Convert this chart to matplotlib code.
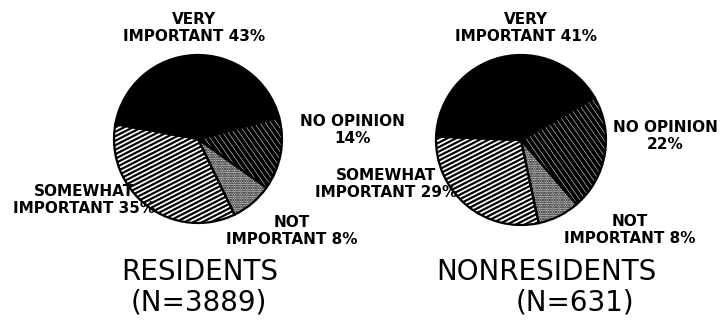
import matplotlib.pyplot as plt
import numpy as np
from matplotlib.collections import LineCollection

plt.rcParams['hatch.linewidth'] = 1.1

# survey shares (percent), counter-clockwise from VERY IMPORTANT
categories = ['VERY IMPORTANT', 'SOMEWHAT IMPORTANT', 'NOT IMPORTANT', 'NO OPINION']
residents = [43, 35, 8, 14]
nonresidents = [41, 29, 8, 22]
groups = ['RESIDENTS', 'NONRESIDENTS']
sample_sizes = [3889, 631]

W, H = 723, 320


def line_fill(ax, wedge, center, radius, angle, spacing, color, lw):
    # parallel lines clipped to the wedge, like an old plotter fill
    t = np.deg2rad(angle)
    d = np.array([np.cos(t), np.sin(t)])
    n = np.array([-d[1], d[0]])
    segs = []
    for off in np.arange(-radius - spacing, radius + spacing, spacing):
        p = np.array(center) + n * off
        segs.append([p - d * radius * 1.2, p + d * radius * 1.2])
    lc = LineCollection(segs, colors=color, linewidths=lw, zorder=3)
    ax.add_collection(lc)
    lc.set_clip_path(wedge)


def draw_pie(ax, values, center, radius, start):
    wedges, _ = ax.pie(values, center=center, radius=radius, startangle=start,
                       counterclock=True,
                       colors=['black', 'white', '#d8d8d8', 'black'],
                       wedgeprops=dict(edgecolor='black', linewidth=0))
    # somewhat important: black lines on white
    line_fill(ax, wedges[1], center, radius, 27, 4.0, 'black', 1.6)
    # not important: fine dots
    wedges[2].set_hatch('.......')
    # no opinion: thin grey-white lines on black
    line_fill(ax, wedges[3], center, radius, -55, 4.5, '#dddddd', 0.4)
    # outlines on top
    ax.pie(values, center=center, radius=radius, startangle=start,
           counterclock=True, colors=['none'] * 4,
           wedgeprops=dict(edgecolor='black', linewidth=1.6, zorder=5))


fig = plt.figure(figsize=(W / 100, H / 100), dpi=100)
ax = fig.add_axes([0, 0, 1, 1])

draw_pie(ax, residents, (198, H - 139), 84, 15)
draw_pie(ax, nonresidents, (521, H - 140), 85, 30)

ax.set_xlim(0, W)
ax.set_ylim(0, H)
ax.set_aspect('equal')
ax.axis('off')

lab = dict(fontsize=11, fontweight='bold', family='DejaVu Sans',
           ha='center', va='center', multialignment='center', linespacing=1.1)


def label(x, y, text):
    ax.text(x, H - y, text, **lab)


# residents
label(194, 28, f'VERY\nIMPORTANT {residents[0]}%')
label(84, 200, f'SOMEWHAT\nIMPORTANT {residents[1]}%')
label(292, 231, f'NOT\nIMPORTANT {residents[2]}%')
label(352, 130, f'NO OPINION\n{residents[3]}%')

# nonresidents
label(526, 28, f'VERY\nIMPORTANT {nonresidents[0]}%')
label(386, 184, f'SOMEWHAT\nIMPORTANT {nonresidents[1]}%')
label(630, 230, f'NOT\nIMPORTANT {nonresidents[2]}%')
label(665, 136, f'NO OPINION\n{nonresidents[3]}%')

ttl = dict(fontsize=20, family='DejaVu Sans', ha='center', va='center')
ax.text(200, H - 272, groups[0], **ttl)
ax.text(199, H - 303, f'(N={sample_sizes[0]})', **ttl)
ax.text(546, H - 272, groups[1], **ttl)
ax.text(575, H - 303, f'(N={sample_sizes[1]})', **ttl)

fig.savefig('out.png', dpi=100, facecolor='white')
